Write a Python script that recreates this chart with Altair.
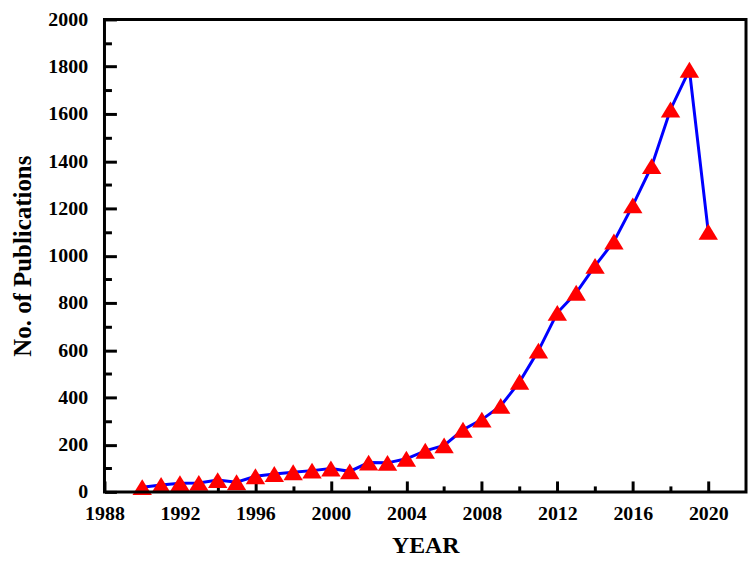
import altair as alt
import pandas as pd

years = list(range(1990, 2021))
pubs = [20, 29, 37, 38, 50, 41, 66, 76, 83, 90, 99, 87, 124, 123, 140, 174, 197,
        263, 306, 364, 466, 598, 758, 843, 957, 1060, 1213, 1379, 1619, 1787, 1101]

x_major = [1988, 1992, 1996, 2000, 2004, 2008, 2012, 2016, 2020]
x_minor = [1990, 1994, 1998, 2002, 2006, 2010, 2014, 2018]
y_major = [0, 200, 400, 600, 800, 1000, 1200, 1400, 1600, 1800, 2000]
y_minor = [100, 300, 500, 700, 900, 1100, 1300, 1500, 1700, 1900]

df = pd.DataFrame({"year": years, "pubs": pubs})

W, H = 645, 475
FONT = "Liberation Serif"
xs = alt.Scale(domain=[1988, 2022], nice=False, zero=False)
ys = alt.Scale(domain=[0, 2000], nice=False)

common_axis = dict(grid=False, domain=False, tickColor="black", tickWidth=3,
                   labelFont=FONT, labelFontWeight="bold", labelFontSize=20,
                   labelColor="black", titleFont=FONT, titleFontWeight="bold",
                   titleColor="black")

x_axis_major = alt.Axis(orient="bottom", values=x_major, format="d", offset=-11,
                        tickSize=11, labelPadding=12, title="YEAR", titlePadding=10,
                        titleFontSize=24, labelFlush=False, labelOverlap=False,
                        **common_axis)
y_axis_major = alt.Axis(orient="left", values=y_major, format="d", offset=-12,
                        tickSize=12, labelPadding=17, title="No. of Publications",
                        titlePadding=12, titleFontSize=25, labelOverlap=False,
                        **common_axis)

x_axis_minor = alt.Axis(orient="bottom", values=x_minor, offset=-6, tickSize=6,
                        labels=False, title=None, grid=False, domain=False,
                        tickColor="black", tickWidth=3)
y_axis_minor = alt.Axis(orient="left", values=y_minor, offset=-7, tickSize=7,
                        labels=False, title=None, grid=False, domain=False,
                        tickColor="black", tickWidth=3)

base = alt.Chart(df)

line = base.mark_line(color="#0000FF", strokeWidth=3).encode(
    x=alt.X("year:Q", scale=xs, axis=x_axis_major),
    y=alt.Y("pubs:Q", scale=ys, axis=y_axis_major),
)

minor = base.mark_point(opacity=0).encode(
    x=alt.X("year:Q", scale=xs, axis=x_axis_minor),
    y=alt.Y("pubs:Q", scale=ys, axis=y_axis_minor),
)

points = base.mark_point(
    shape="M-1,0.82L0,-0.82L1,0.82Z", size=380, filled=True,
    color="#FF0000", opacity=1, strokeWidth=0,
).encode(
    x=alt.X("year:Q", scale=xs, axis=None),
    y=alt.Y("pubs:Q", scale=ys, axis=None),
)

frame = alt.Chart(pd.DataFrame({"k": [0]})).mark_rect(
    fillOpacity=0, stroke="black", strokeWidth=3
).encode(
    x=alt.value(0), x2=alt.value(W), y=alt.value(0), y2=alt.value(H)
)

chart = alt.layer(line, minor, points, frame).resolve_axis(
    x="independent", y="independent"
).properties(
    width=W, height=H,
    padding={"left": 97, "top": 10, "right": 2, "bottom": 72},
    autosize="none",
).configure_view(strokeWidth=0).configure(background="white")

chart.save("out.html", embed_options={"renderer": "svg", "actions": False})
